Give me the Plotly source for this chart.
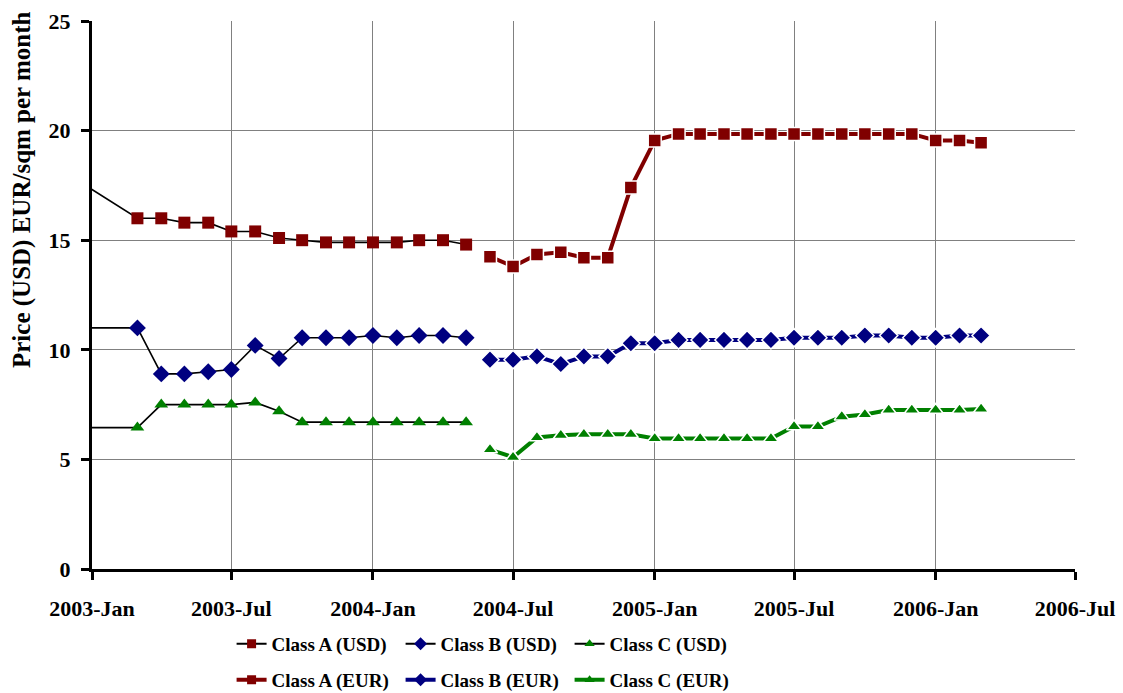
import plotly.graph_objects as go

# ---- data ----
usd_dates = ["2002-12-01", "2003-03-01", "2003-04-01", "2003-05-01", "2003-06-01", "2003-07-01",
             "2003-08-01", "2003-09-01", "2003-10-01", "2003-11-01", "2003-12-01",
             "2004-01-01", "2004-02-01", "2004-03-01", "2004-04-01", "2004-05-01"]
class_a_usd = [18.0, 16.0, 16.0, 15.8, 15.8, 15.4, 15.4, 15.1, 15.0, 14.9, 14.9, 14.9, 14.9, 15.0, 15.0, 14.8]
class_b_usd = [11.0, 11.0, 8.9, 8.9, 9.0, 9.1, 10.2, 9.6, 10.55, 10.55, 10.55, 10.65, 10.55, 10.65, 10.65, 10.55]
class_c_usd = [6.45, 6.45, 7.5, 7.5, 7.5, 7.5, 7.6, 7.2, 6.7, 6.7, 6.7, 6.7, 6.7, 6.7, 6.7, 6.7]

eur_dates = ["2004-06-01", "2004-07-01", "2004-08-01", "2004-09-01", "2004-10-01", "2004-11-01",
             "2004-12-01", "2005-01-01", "2005-02-01", "2005-03-01", "2005-04-01", "2005-05-01",
             "2005-06-01", "2005-07-01", "2005-08-01", "2005-09-01", "2005-10-01", "2005-11-01",
             "2005-12-01", "2006-01-01", "2006-02-01", "2006-03-01"]
class_a_eur = [14.25, 13.8, 14.35, 14.45, 14.2, 14.2, 17.4, 19.55, 19.85, 19.85, 19.85, 19.85,
               19.85, 19.85, 19.85, 19.85, 19.85, 19.85, 19.85, 19.55, 19.55, 19.45]
class_b_eur = [9.55, 9.55, 9.7, 9.35, 9.7, 9.7, 10.3, 10.3, 10.45, 10.45, 10.45, 10.45,
               10.45, 10.55, 10.55, 10.55, 10.65, 10.65, 10.55, 10.55, 10.65, 10.65]
class_c_eur = [5.45, 5.1, 6.0, 6.1, 6.15, 6.15, 6.15, 5.95, 5.95, 5.95, 5.95, 5.95,
               5.95, 6.5, 6.5, 6.95, 7.05, 7.25, 7.25, 7.25, 7.25, 7.3]

tick_vals = ["2003-01-01", "2003-07-01", "2004-01-01", "2004-07-01", "2005-01-01",
             "2005-07-01", "2006-01-01", "2006-07-01"]
tick_text = ["2003-Jan", "2003-Jul", "2004-Jan", "2004-Jul", "2005-Jan", "2005-Jul", "2006-Jan", "2006-Jul"]
y_ticks = [0, 5, 10, 15, 20, 25]
y_title = "Price (USD) EUR/sqm per month"

RED = "#800000"
BLUE = "#000080"
GREEN = "#008000"
FONT = "Liberation Serif"

fig = go.Figure()

usd = [("Class A (USD)", class_a_usd, RED, "square"),
       ("Class B (USD)", class_b_usd, BLUE, "diamond"),
       ("Class C (USD)", class_c_usd, GREEN, "triangle-up")]
eur = [("Class A (EUR)", class_a_eur, RED, "square"),
       ("Class B (EUR)", class_b_eur, BLUE, "diamond"),
       ("Class C (EUR)", class_c_eur, GREEN, "triangle-up")]

for name, vals, col, sym in usd:
    fig.add_trace(go.Scatter(
        x=usd_dates, y=vals, name=name, mode="lines+markers", showlegend=False,
        line=dict(color="black", width=1.6),
        marker=dict(symbol=sym, color=col, size=12 if sym != "diamond" else 13, line=dict(width=0))))

for name, vals, col, sym in eur:
    fig.add_trace(go.Scatter(
        x=eur_dates, y=vals, name=name, mode="lines+markers", showlegend=False,
        line=dict(color=col, width=4),
        marker=dict(symbol=sym, color=col, size=13 if sym != "diamond" else 14,
                    line=dict(width=1.5, color="white"))))

# legend-only entries (smaller markers, like the reference key)
for name, vals, col, sym in usd:
    fig.add_trace(go.Scatter(
        x=[None], y=[None], name=name, mode="lines+markers", legend="legend",
        line=dict(color="black", width=2),
        marker=dict(symbol=sym, color=col, size=9 if sym != "diamond" else 10, line=dict(width=0))))
for name, vals, col, sym in eur:
    fig.add_trace(go.Scatter(
        x=[None], y=[None], name=name, mode="lines+markers", legend="legend2",
        line=dict(color=col, width=4),
        marker=dict(symbol=sym, color=col, size=9 if sym != "diamond" else 10, line=dict(width=0))))

legend_common = dict(orientation="h", xanchor="left", yanchor="middle", yref="container",
                     entrywidth=124, entrywidthmode="pixels",
                     font=dict(family=FONT, size=19, color="black", weight="bold"),
                     bgcolor="rgba(0,0,0,0)", itemclick=False, tracegroupgap=0)

fig.update_layout(
    width=1123, height=693,
    margin=dict(l=92, r=48, t=21, b=124),
    paper_bgcolor="white", plot_bgcolor="white",
    font=dict(family=FONT, color="black", weight="bold"),
    showlegend=True,
    legend=dict(x=0.142, y=1 - 644 / 693, **legend_common),
    legend2=dict(x=0.142, y=1 - 680 / 693, **legend_common),
    xaxis=dict(
        type="date", range=["2003-01-01", "2006-07-01"],
        tickvals=tick_vals, ticktext=tick_text,
        tickfont=dict(family=FONT, size=22, weight="bold"),
        showgrid=True, gridcolor="#808080", gridwidth=1,
        showline=True, linecolor="black", linewidth=3,
        ticks="outside", ticklen=8, tickwidth=3, tickcolor="black",
        ticklabelstandoff=10, automargin=False,
        zeroline=False),
    yaxis=dict(
        range=[0, 25], tickvals=y_ticks,
        tickfont=dict(family=FONT, size=22, weight="bold"),
        showgrid=True, gridcolor="#808080", gridwidth=1,
        showline=True, linecolor="black", linewidth=3,
        ticks="outside", ticklen=8, tickwidth=3, tickcolor="black",
        ticklabelstandoff=6,
        zeroline=False, automargin=False),
    annotations=[dict(
        text=y_title, textangle=-90, showarrow=False,
        xref="paper", yref="paper", x=(22 - 92) / 983, y=(569 - 190) / 548,
        xanchor="center", yanchor="middle",
        font=dict(family=FONT, size=25, color="black", weight="bold"))],
)

fig.write_html("out.html")
